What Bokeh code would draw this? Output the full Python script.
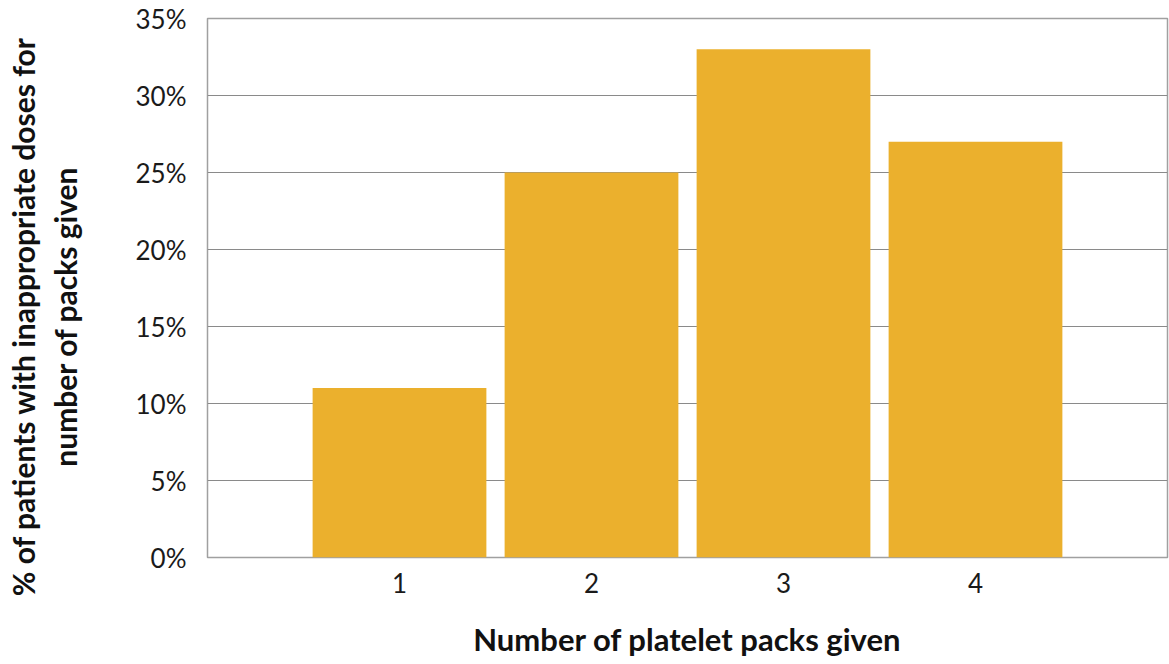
import math
from bokeh.plotting import figure
from bokeh.layouts import row
from bokeh.models import Range1d, FixedTicker, PrintfTickFormatter, ColumnDataSource
from bokeh.core.properties import value
from bokeh.embed import file_html
from bokeh.resources import INLINE

# Share of patients receiving an inappropriate dose, by number of packs given
packs = [1, 2, 3, 4]
pct_inappropriate = [11, 25, 33, 27]
y_ticks = [0, 5, 10, 15, 20, 25, 30, 35]
y_title_lines = ["% of patients with inappropriate doses for", "number of packs given"]

FONT = "Lato"
BAR = "#EBB02D"
H = 664
SIDE_W = 100

# narrow strip on the left that carries the two-line vertical title;
# its frame is kept unaligned so it spans the whole strip
side = figure(width=SIDE_W, height=H, output_backend="svg", toolbar_location=None,
              x_range=Range1d(0, SIDE_W), y_range=Range1d(0, H),
              x_axis_type=None, y_axis_type=None,
              min_border=0, outline_line_color=None, frame_align=False)
side.grid.visible = False
side.text(x=[22, 64], y=[H - 316, H - 316], text=y_title_lines, angle=math.pi / 2,
          text_align="center", text_baseline="middle",
          text_font=value(FONT), text_font_style="bold", text_font_size="30px",
          text_color="#111111")

src = ColumnDataSource(data=dict(x=packs, top=pct_inappropriate))

p = figure(width=1169 - SIDE_W, height=H, output_backend="svg", toolbar_location=None,
           x_range=Range1d(0, 5), y_range=Range1d(0, 35),
           min_border_left=207 - SIDE_W, min_border_right=2, min_border_top=18,
           min_border_bottom=107, frame_align=False)

p.vbar(x="x", top="top", bottom=0, width=0.905, source=src, fill_color=BAR, line_color=None)

p.outline_line_color = "#a0a0a0"
p.outline_line_width = 1.5
p.background_fill_color = "white"
p.border_fill_color = "white"

p.xgrid.grid_line_color = None
p.ygrid.grid_line_color = "#8a8a8a"
p.ygrid.grid_line_width = 1.2
p.ygrid.ticker = FixedTicker(ticks=y_ticks)

p.yaxis.ticker = FixedTicker(ticks=y_ticks)
p.yaxis.formatter = PrintfTickFormatter(format="%d%%")
p.xaxis.ticker = FixedTicker(ticks=packs)

for ax in (p.xaxis, p.yaxis):
    ax.axis_line_color = None
    ax.major_tick_line_color = None
    ax.minor_tick_line_color = None
    ax.major_label_text_font = FONT
    ax.major_label_text_font_size = "26px"
    ax.major_label_text_color = "#1a1a1a"

p.yaxis.major_label_standoff = 15
p.xaxis.major_label_standoff = 9

p.xaxis.axis_label = "Number of platelet packs given"
p.xaxis.axis_label_text_font = FONT
p.xaxis.axis_label_text_font_style = "bold"
p.xaxis.axis_label_text_font_size = "31px"
p.xaxis.axis_label_text_color = "#111111"
p.xaxis.axis_label_standoff = 24

layout = row(side, p, spacing=0)
open("out.html", "w").write(file_html(layout, INLINE))
